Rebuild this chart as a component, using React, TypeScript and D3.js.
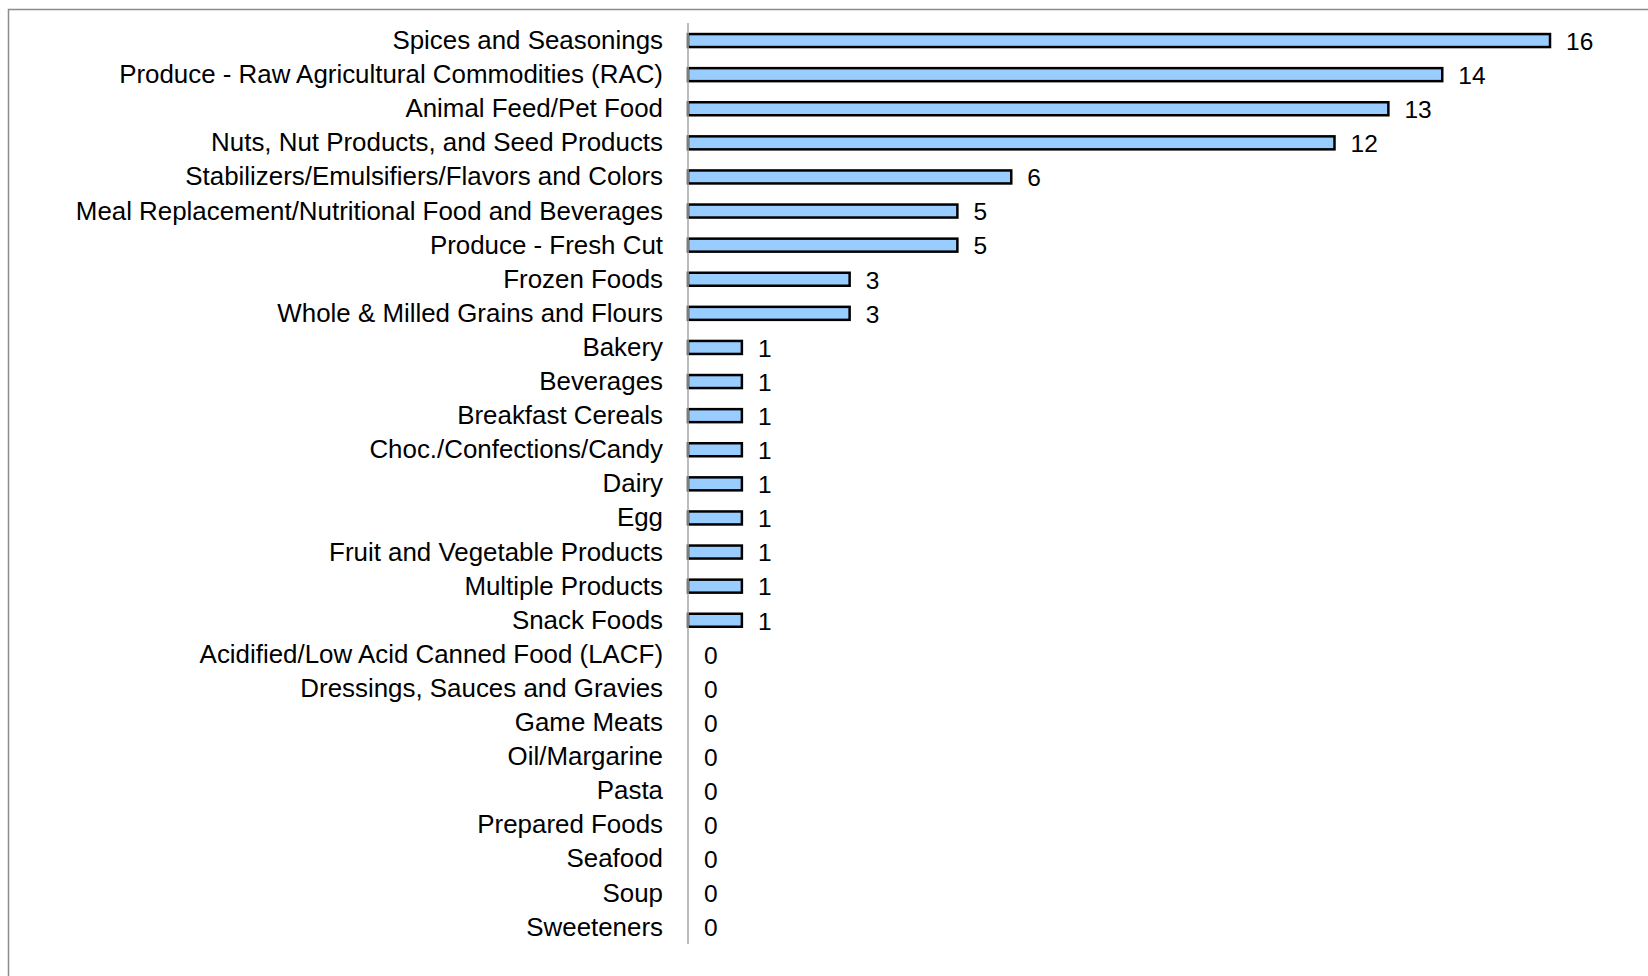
import React from 'react';
import * as d3 from 'd3';

const categories = [
  'Spices and Seasonings',
  'Produce - Raw Agricultural Commodities (RAC)',
  'Animal Feed/Pet Food',
  'Nuts, Nut Products, and Seed Products',
  'Stabilizers/Emulsifiers/Flavors and Colors',
  'Meal Replacement/Nutritional Food and Beverages',
  'Produce - Fresh Cut',
  'Frozen Foods',
  'Whole & Milled Grains and Flours',
  'Bakery',
  'Beverages',
  'Breakfast Cereals',
  'Choc./Confections/Candy',
  'Dairy',
  'Egg',
  'Fruit and Vegetable Products',
  'Multiple Products',
  'Snack Foods',
  'Acidified/Low Acid Canned Food (LACF)',
  'Dressings, Sauces and Gravies',
  'Game Meats',
  'Oil/Margarine',
  'Pasta',
  'Prepared Foods',
  'Seafood',
  'Soup',
  'Sweeteners',
];

const counts = [16, 14, 13, 12, 6, 5, 5, 3, 3, 1, 1, 1, 1, 1, 1, 1, 1, 1, 0, 0, 0, 0, 0, 0, 0, 0, 0];

const width = 1648;
const height = 976;

export default function App() {
  const x = d3.scaleLinear().domain([0, 16]).range([688, 1550]);
  const y = d3
    .scaleBand<string>()
    .domain(categories)
    .range([23.5, 944.2])
    .paddingInner(0.6)
    .paddingOuter(0.3);

  const barH = 13;
  const font = '"Liberation Sans", Arial, sans-serif';

  return (
    <svg
      width={width}
      height={height}
      style={{ position: 'absolute', left: 0, top: 0, background: '#fff' }}
    >
      {/* chart border, clipped by the picture */}
      <rect x={8.5} y={9.5} width={width + 20} height={height + 20} fill="none" stroke="#8c8c8c" strokeWidth={1.5} />

      {categories.map((c, i) => {
        const cy = (y(c) as number) + y.bandwidth() / 2;
        const v = counts[i];
        return (
          <g key={c}>
            <text
              x={663}
              y={cy}
              dy="0.33em"
              textAnchor="end"
              fontFamily={font}
              fontSize={25.9}
              fill="#000"
            >
              {c}
            </text>
            {v > 0 && (
              <rect
                x={x(0)}
                y={cy - barH / 2}
                width={x(v) - x(0)}
                height={barH}
                fill="#99ccff"
                stroke="#000"
                strokeWidth={2.5}
              />
            )}
            <text
              x={x(v) + 16}
              y={cy}
              dy="0.38em"
              fontFamily={font}
              fontSize={24.5}
              fill="#000"
            >
              {v}
            </text>
          </g>
        );
      })}

      <line x1={x(0)} x2={x(0)} y1={23} y2={944} stroke="#a6a6a6" strokeWidth={1.5} />
    </svg>
  );
}
